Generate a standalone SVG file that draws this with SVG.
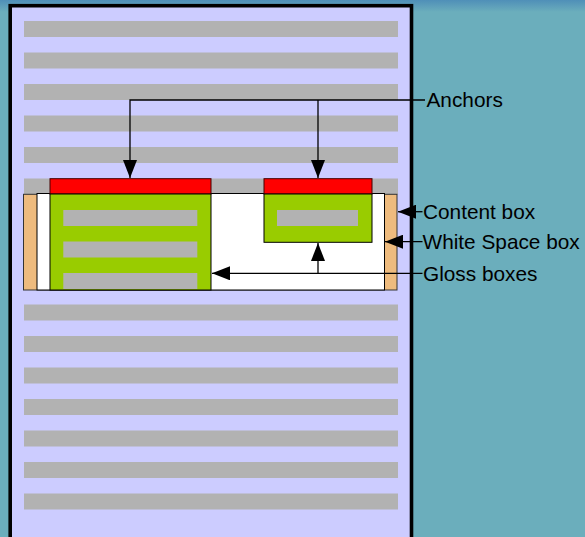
<svg xmlns="http://www.w3.org/2000/svg" width="585" height="537" viewBox="0 0 585 537">
<defs>
<linearGradient id="topg" x1="0" y1="0" x2="0" y2="1">
<stop offset="0" stop-color="#4F8FB8"/>
<stop offset="1" stop-color="#6BAEBC"/>
</linearGradient>
<marker id="ah" viewBox="0 0 18 14" refX="18" refY="7" markerWidth="18" markerHeight="14" markerUnits="userSpaceOnUse" orient="auto">
<path d="M0,0 L18,7 L0,14 Z" fill="#000"/>
</marker>
</defs>
<style>
.bar{fill:#B2B2B2}
.red{fill:#FF0000;stroke:#400;stroke-width:1}
.green{fill:#99CC00;stroke:#000;stroke-width:1}
.lbl{font-family:"Liberation Sans",Arial,sans-serif;font-size:20.8px;fill:#000}
.ln{stroke:#000;stroke-width:1.3;fill:none}
</style>
<rect x="0" y="0" width="585" height="537" fill="#6BAEBC"/>
<rect x="0" y="0" width="585" height="12" fill="url(#topg)"/>
<g id="page">
<rect x="10.2" y="5.7" width="401.3" height="540" fill="#CCCCFF" stroke="#000" stroke-width="3.6"/>
<rect class="bar" x="24" y="21" width="374" height="16"/>
<rect class="bar" x="24" y="52.5" width="374" height="16"/>
<rect class="bar" x="24" y="84" width="374" height="16"/>
<rect class="bar" x="24" y="115.5" width="374" height="16"/>
<rect class="bar" x="24" y="147" width="374" height="16"/>
<rect class="bar" x="24" y="178.5" width="374" height="16"/>
<rect class="bar" x="24" y="304.5" width="374" height="16"/>
<rect class="bar" x="24" y="336" width="374" height="16"/>
<rect class="bar" x="24" y="367.5" width="374" height="16"/>
<rect class="bar" x="24" y="399" width="374" height="16"/>
<rect class="bar" x="24" y="430.5" width="374" height="16"/>
<rect class="bar" x="24" y="462" width="374" height="16"/>
<rect class="bar" x="24" y="493.5" width="374" height="16"/>
</g>
<g id="content-box">
<rect x="23.5" y="194.3" width="373.5" height="95.7" fill="#EEBB7E" stroke="#333" stroke-width="1"/>
</g>
<g id="white-space-box">
<rect x="37" y="193.5" width="347.5" height="96.5" fill="#FFFFFF" stroke="#000" stroke-width="1"/>
</g>
<g id="gloss-left">
<rect class="red" x="50" y="178.7" width="161" height="15.3"/>
<rect class="green" x="50" y="194" width="161" height="96"/>
<rect class="bar" x="63.3" y="210" width="134" height="16"/>
<rect class="bar" x="63.3" y="241.5" width="134" height="16"/>
<rect class="bar" x="63.3" y="273" width="134" height="16"/>
</g>
<g id="gloss-right">
<rect class="red" x="264" y="178.7" width="108" height="15.3"/>
<rect class="green" x="264" y="194" width="108" height="48.3"/>
<rect class="bar" x="277" y="210" width="81" height="16"/>
</g>
<g id="connectors">
<path class="ln" d="M425,100 H130 V178" marker-end="url(#ah)"/>
<path class="ln" d="M318,100 V178" marker-end="url(#ah)"/>
<path class="ln" d="M422.5,211.7 H398" marker-end="url(#ah)"/>
<path class="ln" d="M422.5,241.7 H385" marker-end="url(#ah)"/>
<path class="ln" d="M422.5,273.3 H212" marker-end="url(#ah)"/>
<path class="ln" d="M318,273.3 V243" marker-end="url(#ah)"/>
</g>
<g id="labels">
<text class="lbl" x="426.5" y="106.8">Anchors</text>
<text class="lbl" x="423" y="218.8">Content box</text>
<text class="lbl" x="422.5" y="249">White Space box</text>
<text class="lbl" x="423" y="280.7">Gloss boxes</text>
</g>
</svg>
